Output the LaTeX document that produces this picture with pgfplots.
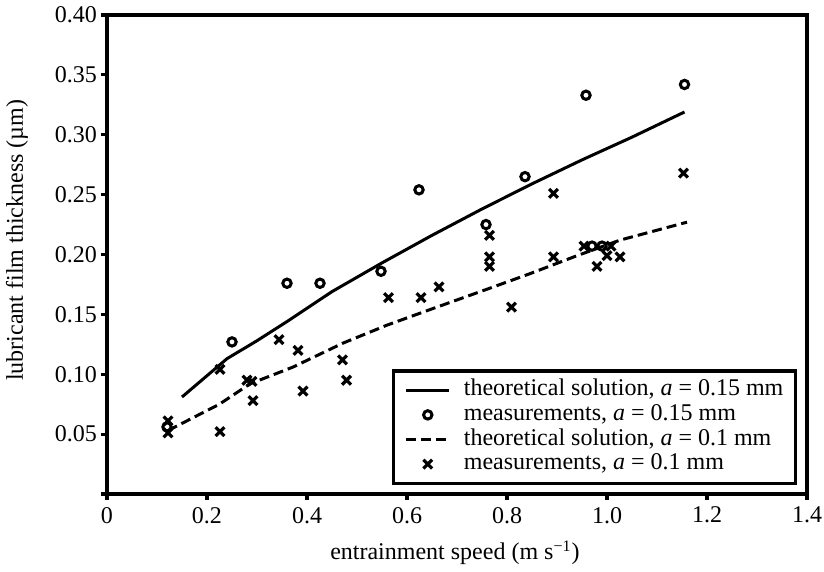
\documentclass[border=0pt]{standalone}
\usepackage{pgfplots}
\pgfplotsset{compat=1.18}
\usepackage{fontspec}
\setmainfont{Liberation Serif}

\begin{document}
\begin{tikzpicture}
\begin{axis}[
  scale only axis, width=350pt, height=239.5pt,
  xmin=0, xmax=1.4, ymin=0, ymax=0.4,
  xtick={0,0.2,0.4,0.6,0.8,1.0,1.2,1.4},
  xticklabels={0,0.2,0.4,0.6,0.8,1.0,1.2,1.4},
  ytick={0,0.05,0.10,0.15,0.20,0.25,0.30,0.35,0.40},
  yticklabels={,0.05,0.10,0.15,0.20,0.25,0.30,0.35,0.40},
  tick align=outside, tick pos=left, major tick length=3pt,
  axis line style={line width=1.6pt},
  every tick/.style={black,line width=1.6pt},
  font=\fontsize{12}{14}\selectfont,
  /pgf/number format/assume math mode=true,
  yticklabel style={xshift=1.5pt},
  xlabel={entrainment speed (m s\textsuperscript{−1})},
  ylabel={lubricant film thickness (µm)},
  xlabel style={at={(axis description cs:0.497,-0.123)}, anchor=center},
  ylabel style={at={(axis description cs:-0.1286,0.53)}, anchor=center},
  legend cell align=left,
  legend image code/.code={\draw[mark repeat=2,mark phase=2,#1] plot coordinates {(0cm,0cm) (0.38cm,0cm) (0.76cm,0cm)};},
  legend style={at={(axis description cs:0.9857,0.0188)}, anchor=south east,
    draw=black, line width=1.6pt, inner xsep=5.5pt, inner ysep=3.5pt,
    nodes={inner sep=0.5pt, text height=8.5pt, text depth=2.8pt},
    /tikz/every odd column/.append style={column sep=6pt},
    font=\fontsize{12}{14}\selectfont},
]
% theoretical solution, a = 0.15 mm
\addplot[black, line width=1.5pt] coordinates {
  (0.15,0.081) (0.24,0.113) (0.30,0.128) (0.36,0.144) (0.45,0.169)
  (0.55,0.193) (0.65,0.216) (0.75,0.238) (0.85,0.259) (0.95,0.279)
  (1.05,0.298) (1.155,0.319)};
\addlegendentry{theoretical solution, \textit{a} = 0.15 mm}
% measurements, a = 0.15 mm
\addplot[only marks, mark=o, mark size=2.1pt, mark options={black, line width=1.5pt}] coordinates {
  (0.12,0.056) (0.25,0.127) (0.36,0.176) (0.426,0.176) (0.548,0.186)
  (0.624,0.254) (0.758,0.225) (0.836,0.265) (0.958,0.333) (0.97,0.207)
  (0.99,0.207) (1.155,0.342)};
\addlegendentry{measurements, \textit{a} = 0.15 mm}
% theoretical solution, a = 0.1 mm
\addplot[black, line width=1.5pt, dash pattern=on 5pt off 2.5pt] coordinates {
  (0.122,0.053) (0.225,0.075) (0.286,0.092) (0.372,0.106) (0.472,0.126)
  (0.56,0.141) (0.646,0.154) (0.76,0.171) (0.846,0.184) (0.94,0.199)
  (1.026,0.212) (1.16,0.227)};
\addlegendentry{theoretical solution, \textit{a} = 0.1 mm}
% measurements, a = 0.1 mm
\addplot[only marks, mark=x, mark size=3.1pt, mark options={black, line width=1.6pt}] coordinates {
  (0.122,0.061) (0.122,0.051) (0.226,0.104) (0.226,0.052) (0.28,0.095)
  (0.29,0.094) (0.292,0.078) (0.344,0.129) (0.382,0.120) (0.392,0.086)
  (0.471,0.112) (0.479,0.095) (0.563,0.164) (0.628,0.164) (0.664,0.173)
  (0.765,0.216) (0.765,0.198) (0.765,0.190) (0.809,0.156) (0.893,0.251)
  (0.893,0.198) (0.954,0.207) (1.008,0.207) (0.98,0.190) (1.0,0.199)
  (1.026,0.198) (1.153,0.268)};
\addlegendentry{measurements, \textit{a} = 0.1 mm}
\end{axis}
\pgfresetboundingbox
\useasboundingbox (-53.5pt,-39pt) rectangle (358.5pt,247pt);
\end{tikzpicture}
\end{document}
